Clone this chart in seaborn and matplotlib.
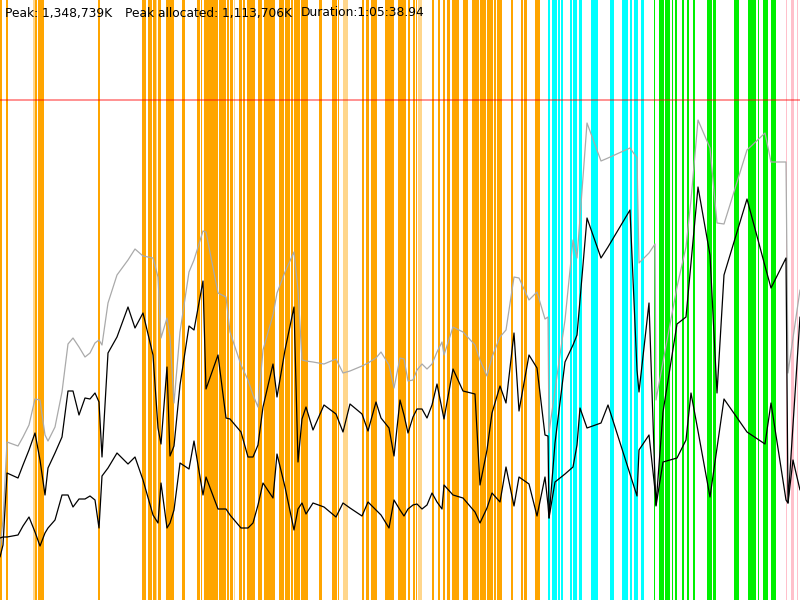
import matplotlib
matplotlib.use("Agg")
import matplotlib.pyplot as plt
import pandas as pd
import seaborn as sns

# sample times (chart units, 0..800) and the three memory series (0..600)
sample_t = [0, 3, 7, 18, 23, 29, 35, 40, 45, 48, 55, 62, 68, 73, 79, 85, 90, 95, 99, 102,
            108, 117, 128, 135, 143, 153, 158, 161, 167, 170, 174, 180, 189, 194, 203, 206,
            218, 226, 230, 241, 248, 253, 258, 263, 273, 277, 285, 294, 298, 302, 306, 313,
            324, 336, 343, 350, 362, 368, 376, 381, 389, 394, 400, 404, 408, 413, 417, 422,
            427, 432, 437, 442, 444, 453, 463, 475, 480, 487, 492, 500, 506, 514, 519, 529,
            537, 545, 548, 549, 555, 565, 573, 577, 580, 587, 601, 608, 630, 637, 639, 649,
            655, 656, 663, 677, 686, 691, 698, 710, 717, 724, 747, 765, 771, 786, 788, 793, 800]
heap_size = [52, 80, 158, 154, 163, 175, 201, 200, 165, 159, 173, 208, 256, 262, 253, 243, 247, 257, 260, 255,
             297, 325, 340, 351, 344, 342, 323, 262, 282, 263, 197, 268, 328, 340, 369, 368,
             307, 303, 268, 235, 220, 205, 193, 250, 285, 307, 328, 348, 310, 240, 239, 238,
             236, 241, 227, 229, 234, 237, 242, 248, 235, 212, 242, 241, 219, 220, 230, 236,
             231, 236, 248, 258, 245, 273, 268, 255, 240, 224, 243, 263, 270, 323, 322, 300,
             308, 281, 283, 167, 210, 280, 360, 342, 382, 477, 439, 442, 452, 442, 337, 347,
             356, 200, 238, 313, 353, 400, 480, 452, 377, 376, 450, 467, 438, 438, 227, 262, 310]
heap_live = [43, 55, 127, 122, 135, 150, 167, 140, 105, 132, 147, 163, 209, 209, 185, 202, 201, 207, 198, 143,
             247, 263, 293, 272, 287, 245, 172, 156, 233, 144, 154, 215, 274, 270, 319, 211,
             245, 182, 181, 168, 143, 143, 155, 193, 236, 203, 250, 293, 138, 181, 193, 170,
             195, 186, 168, 196, 186, 169, 198, 182, 172, 144, 200, 185, 167, 183, 191, 191,
             182, 195, 216, 191, 181, 231, 209, 206, 115, 150, 187, 214, 197, 267, 189, 245,
             232, 165, 164, 82, 157, 238, 255, 265, 300, 382, 342, 353, 390, 230, 208, 297,
             120, 95, 188, 276, 283, 337, 413, 345, 207, 325, 401, 334, 312, 342, 97, 175, 283]
heap_base = [62, 63, 63, 65, 74, 83, 68, 54, 67, 72, 80, 105, 105, 93, 101, 101, 104, 100, 72, 124,
             132, 147, 136, 143, 120, 85, 77, 117, 72, 77, 90, 137, 131, 159, 105, 123,
             91, 91, 85, 72, 72, 77, 95, 117, 102, 146, 113, 70, 91, 97, 86, 97,
             93, 83, 97, 92, 84, 98, 90, 85, 72, 100, 90, 84, 91, 95, 96, 91,
             95, 107, 98, 91, 115, 105, 102, 88, 77, 92, 107, 98, 133, 94, 123, 116,
             84, 123, 95, 82, 118, 126, 133, 155, 192, 172, 177, 195, 126, 104, 150, 165,
             110, 94, 138, 142, 160, 207, 169, 103, 152, 201, 168, 156, 197, 100, 97, 140, 110]

peak_level = 500

# phase bands (start, end) on the time axis
orange_bands = [(0, 2), (6, 8), (35, 37), (38, 44), (98, 99.5), (142, 146), (148, 151.5), (153, 156),
                (158, 161), (166, 173.5), (182, 185), (197, 200), (201, 202), (203.5, 218), (218.5, 226),
                (226.5, 229), (229.5, 233), (239, 242), (243, 245), (247, 255), (258, 262), (264, 275),
                (279, 284), (285, 290), (291, 293), (294, 300), (301, 308), (319, 322), (332, 337),
                (338, 339), (362, 364), (366, 369), (371, 377), (385, 394), (398, 406), (408, 410),
                (413, 415), (416, 417), (432, 434), (438, 440), (443, 444.5), (447, 450), (452, 459),
                (463, 468), (472, 479), (480, 486), (487, 493), (493.5, 496), (497, 502), (511, 513),
                (521, 523), (524, 527), (535, 540)]
orange_pale = [(33, 35), (156, 157), (233.5, 234.5), (343, 348), (418, 422), (319, 320), (391, 394)]
cyan_bands = [(548, 549.5), (552, 557), (557.5, 560), (560.5, 563), (570, 572), (573, 577), (579, 582),
              (591, 598), (610, 614), (622, 628), (630, 632), (634, 638), (641, 644)]
green_bands = [(654, 655), (659, 664), (664.5, 670), (672, 673), (675, 677), (682, 684), (687, 689),
               (693, 695), (707, 712), (713, 716), (734, 739), (748, 756), (758, 759), (763, 768),
               (771, 776)]
pink_bands = [(786, 787), (791, 794), (797, 798)]

df = pd.DataFrame({"t": sample_t, "size": heap_size, "live": heap_live, "base": heap_base})

sns.set_theme(style="white")
plt.rcParams['font.family'] = ['DejaVu Sans']

fig = plt.figure(figsize=(8, 6), dpi=100)
ax = fig.add_axes([0, 0, 1, 1])

for bands, col, a in [(orange_bands, "#FFA500", 1.0), (orange_pale, "#FFA500", 0.45),
                      (cyan_bands, "#00FFFF", 1.0), (green_bands, "#00F000", 1.0),
                      (pink_bands, "#FFC0CB", 1.0)]:
    for s, e in bands:
        ax.axvspan(s, e, color=col, alpha=a, lw=0, zorder=1)

sns.lineplot(data=df, x="t", y="size", color="#AAAAAA", lw=0.9, sort=False, estimator=None, ax=ax, zorder=3)
sns.lineplot(data=df, x="t", y="live", color="black", lw=0.9, sort=False, estimator=None, ax=ax, zorder=3)
sns.lineplot(data=df, x="t", y="base", color="black", lw=0.9, sort=False, estimator=None, ax=ax, zorder=3)

ax.axhline(peak_level, color="red", alpha=0.5, lw=1.2, zorder=4)

ax.text(5, 587, "Peak: 1,348,739K", fontsize=8.8, color="black", va="center", zorder=5)
ax.text(125, 587, "Peak allocated: 1,113,706K", fontsize=8.8, color="black", va="center", zorder=5)
ax.text(301, 587, "Duration:1:05:38.94", fontsize=8.8, color="black", va="center", zorder=5)

ax.set_xlim(0, 800)
ax.set_ylim(0, 600)
ax.axis("off")

fig.savefig("out.png", dpi=100)
